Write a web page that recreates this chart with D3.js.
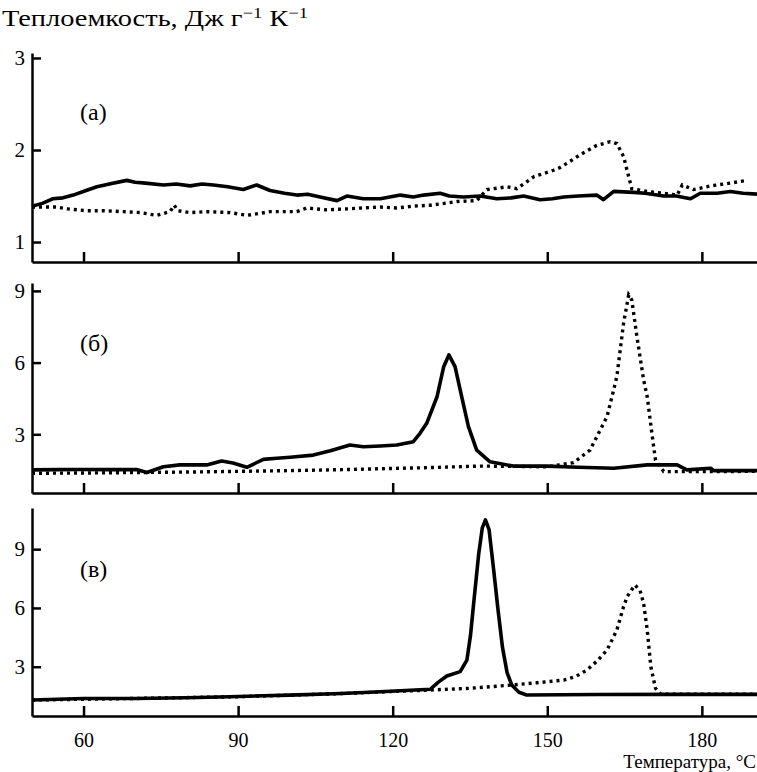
<!DOCTYPE html>
<head>
    <meta charset="utf-8">
    <script src='https://d3js.org/d3.v7.min.js'></script>
    <title>Теплоемкость</title>
    <style>
        body { margin: 0; background: #ffffff; }
    </style>
</head>
<body>
<svg id="chart" width="757" height="772"></svg>
<script>

// temperature ticks, °C
var xTicks = [60, 90, 120, 150, 180];

// panel (а) : [T, Cp]
var aSolid = [[50,1.39],[52,1.42],[54,1.47],[56,1.48],[58,1.51],[60.5,1.56],[62.6,1.60],[65,1.63],[68.4,1.67],[70,1.65],[72,1.64],[75.5,1.62],[78,1.63],[80.7,1.61],[83,1.63],[85.2,1.62],[88,1.60],[91,1.57],[93.6,1.62],[96.2,1.56],[99,1.53],[101.4,1.51],[103.5,1.52],[105.9,1.49],[109.2,1.45],[111.1,1.50],[114.3,1.47],[117.6,1.47],[121.5,1.51],[124,1.49],[126,1.51],[129.2,1.53],[131,1.50],[133.7,1.49],[137,1.50],[140.2,1.47],[143,1.48],[145.4,1.50],[148.6,1.46],[151,1.47],[153.2,1.49],[156,1.50],[159.6,1.51],[160.9,1.46],[162.9,1.55],[166.8,1.54],[169,1.53],[172.6,1.50],[175,1.50],[177.8,1.47],[179.7,1.53],[183,1.53],[185.5,1.55],[188,1.53],[190.7,1.52]];
var aDotted = [[50,1.38],[54.8,1.38],[57,1.36],[60.6,1.34],[64,1.34],[67.7,1.33],[71,1.32],[74.2,1.29],[76.8,1.33],[77.6,1.40],[78.3,1.34],[80.7,1.32],[84,1.33],[88.4,1.32],[91.7,1.29],[94,1.31],[96.2,1.33],[101.4,1.33],[103.3,1.37],[107,1.35],[111.1,1.36],[114,1.37],[117.6,1.38],[120.8,1.37],[124,1.39],[127.3,1.40],[130,1.42],[132.5,1.44],[136.3,1.45],[138.3,1.57],[142.2,1.60],[144.1,1.58],[147.4,1.71],[151.2,1.78],[152.5,1.81],[154.5,1.88],[156.4,1.95],[158,2.00],[159.6,2.05],[162.2,2.09],[163.5,2.07],[164.8,1.93],[165.8,1.71],[166.4,1.58],[169.4,1.55],[172.6,1.53],[175.2,1.51],[176.2,1.62],[178.4,1.57],[181.7,1.61],[185.5,1.64],[188.8,1.67]];

// panel (б)
var bSolid = [[50,1.51],[55,1.52],[59.3,1.53],[65,1.52],[70.3,1.53],[72.3,1.40],[75.5,1.64],[78.7,1.72],[83.9,1.72],[86.8,1.88],[89,1.80],[91.7,1.62],[94.9,1.95],[97.5,2.00],[100.1,2.04],[104.6,2.13],[107.9,2.31],[111.7,2.55],[114.3,2.48],[117.6,2.51],[120.8,2.55],[124,2.69],[125.3,3.04],[126.6,3.46],[128.6,4.57],[129.9,5.83],[130.9,6.32],[132.1,5.83],[133.4,4.57],[134.7,3.32],[136.3,2.34],[138.9,1.85],[143.4,1.67],[149.9,1.67],[156,1.62],[162.9,1.58],[169.4,1.72],[175.2,1.72],[177.1,1.51],[181.7,1.58],[182.3,1.48],[186,1.48],[190.7,1.48]];
var bDotted = [[50,1.37],[60,1.38],[70,1.40],[80,1.42],[90,1.45],[100,1.48],[110,1.52],[117.6,1.56],[126,1.60],[137,1.67],[143,1.66],[149.9,1.64],[155.1,1.81],[158.3,2.34],[161.6,3.74],[163.5,5.41],[164.8,7.64],[165.8,8.83],[166.4,8.62],[167.4,7.08],[168.7,5.27],[169.4,4.57],[170.3,3.04],[171,1.92],[172.6,1.44],[180,1.44],[190.7,1.45]];

// panel (в)
var cSolid = [[50,1.30],[60,1.38],[70,1.38],[80,1.42],[88.4,1.47],[100,1.55],[110,1.63],[117.6,1.72],[127.3,1.85],[128.8,2.20],[130.5,2.53],[133.1,2.75],[134.4,3.34],[135.1,4.6],[135.7,6.2],[136.7,8.78],[137.4,10.1],[138,10.49],[138.7,10.0],[139.6,7.93],[140.4,6.0],[141.3,4.0],[142.2,2.7],[143.1,2.07],[144.5,1.70],[146,1.56],[160,1.58],[175,1.59],[190.7,1.59]];
var cDotted = [[50,1.30],[70,1.38],[90,1.47],[110,1.63],[127.3,1.81],[135,1.90],[143.4,2.07],[148,2.18],[153.2,2.32],[155.5,2.50],[157.7,2.83],[159.7,3.30],[161.6,3.85],[163.5,4.87],[164.8,6.06],[165.5,6.57],[167,7.17],[168,6.90],[168.7,6.23],[169.4,4.87],[170.1,3.0],[171,1.90],[172,1.60],[190.7,1.60]];

var panels = [
    {label: "(а)", solid: aSolid, dotted: aDotted, ticks: [1, 2, 3], domain: [0.783, 3.054], top: 53, bottom: 262, labelY: 120},
    {label: "(б)", solid: bSolid, dotted: bDotted, ticks: [3, 6, 9], domain: [0.544, 9.33], top: 283, bottom: 493, labelY: 351},
    {label: "(в)", solid: cSolid, dotted: cDotted, ticks: [3, 6, 9], domain: [0.485, 11.10], top: 508, bottom: 716, labelY: 577}
];

var serif = "'Liberation Serif', 'Times New Roman', 'DejaVu Serif', serif";
var svg = d3.select("#chart");
var left = 32;
var x = d3.scaleLinear().domain([50, 190.7]).range([left, 757]);

svg.append("text")
    .attr("x", 2)
    .attr("y", 26)
    .attr("textLength", 306)
    .attr("lengthAdjust", "spacingAndGlyphs")
    .style("font-family", serif)
    .style("font-size", "23px")
    .html("Теплоемкость, Дж г<tspan dy='-8' style='font-size:15px'>−1</tspan><tspan dy='8'> К</tspan><tspan dy='-8' style='font-size:15px'>−1</tspan>");

panels.forEach(function(p, i) {
    var y = d3.scaleLinear().domain(p.domain).range([p.bottom, p.top]);
    var line = d3.line()
        .x(function(d) { return x(d[0]); })
        .y(function(d) { return y(d[1]); });

    var g = svg.append("g");

    g.append("path")
        .datum(p.dotted)
        .attr("fill", "none")
        .attr("stroke", "#000")
        .attr("stroke-width", 3.4)
        .attr("stroke-dasharray", "3,4")
        .attr("d", line);

    g.append("path")
        .datum(p.solid)
        .attr("fill", "none")
        .attr("stroke", "#000")
        .attr("stroke-width", 3.6)
        .attr("stroke-linejoin", "round")
        .attr("d", line);

    // left axis, ticks pointing inward
    var ya = g.append("g")
        .attr("transform", "translate(" + left + ",0)")
        .call(d3.axisLeft(y).tickValues(p.ticks).tickSize(-9).tickSizeOuter(0).tickPadding(7)
            .tickFormat(d3.format("d")));

    // bottom axis
    var xa = g.append("g")
        .attr("transform", "translate(0," + p.bottom + ")")
        .call(d3.axisBottom(x).tickValues(xTicks).tickSize(-10).tickSizeOuter(0).tickPadding(17)
            .tickFormat(i == 2 ? d3.format("d") : function() { return ""; }));

    [ya, xa].forEach(function(a) {
        a.select(".domain").attr("stroke-width", 2.5);
        a.selectAll(".tick line").attr("stroke-width", 2.5);
        a.selectAll("text").style("font-size", "21px").style("font-family", serif);
    });
    xa.selectAll("text").style("font-size", "20px");

    g.append("text")
        .attr("x", 80)
        .attr("y", p.labelY)
        .style("font-family", serif)
        .style("font-size", "24px")
        .text(p.label);
});

svg.append("text")
    .attr("x", 756)
    .attr("y", 768)
    .attr("text-anchor", "end")
    .style("font-family", serif)
    .style("font-size", "19px")
    .text("Температура, °C");

</script>
</body>
</html>
